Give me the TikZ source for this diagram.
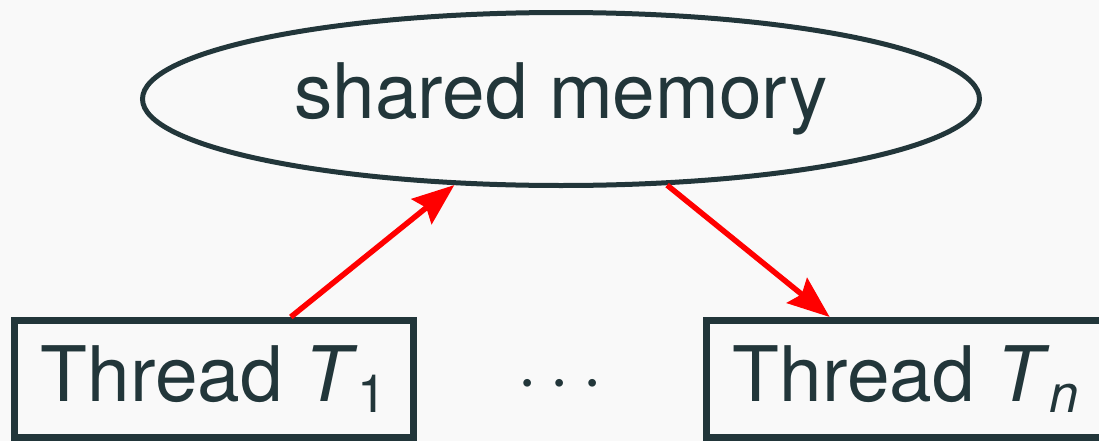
\documentclass[tikz,border=0pt]{standalone}
\usepackage{fontspec}
\setsansfont{TeX Gyre Heros}
\usetikzlibrary{shapes.geometric,arrows.meta,positioning,calc}
\definecolor{inkgray}{RGB}{34,54,58}
\definecolor{bggray}{RGB}{249,249,249}
\newcommand{\Tsub}[1]{\textit{T}\raisebox{-0.15em}{\fontsize{15}{15}\selectfont #1}}

\begin{document}
\begin{tikzpicture}[
        font=\sffamily\fontsize{21.8}{26}\selectfont,
        text=inkgray,
        % shared store on top, threads below
        mem/.style={ellipse, draw=inkgray, line width=0.5mm, inner sep=0pt,
            minimum width=8.37cm, minimum height=1.73cm},
        thread/.style={rectangle, draw=inkgray, line width=0.7mm, inner sep=0pt,
            minimum width=3.99cm, minimum height=1.17cm},
        flow/.style={-{Stealth[length=4.2mm,width=3.2mm,inset=0.6mm]}, red, line width=0.55mm}
    ]
        \fill[bggray] (0,0) rectangle (10.99,4.41);
        \useasboundingbox (0,0) rectangle (10.99,4.41);

        \node[mem] (mem) at (5.61,3.42) {shared memory};
        \node[thread] (t1) at (2.14,0.62) {Thread \Tsub{1}};
        \node[thread, right=2.86cm of t1] (tn) {Thread \Tsub{\textit{n}}};
        \node[anchor=base] (dots) at ($(t1.base)!0.5!(tn.base)$) {$\cdots$};

        % Connections
        \draw[flow] (t1) -- (mem);
        \draw[flow] (mem) -- (tn);
    \end{tikzpicture}
\end{document}
